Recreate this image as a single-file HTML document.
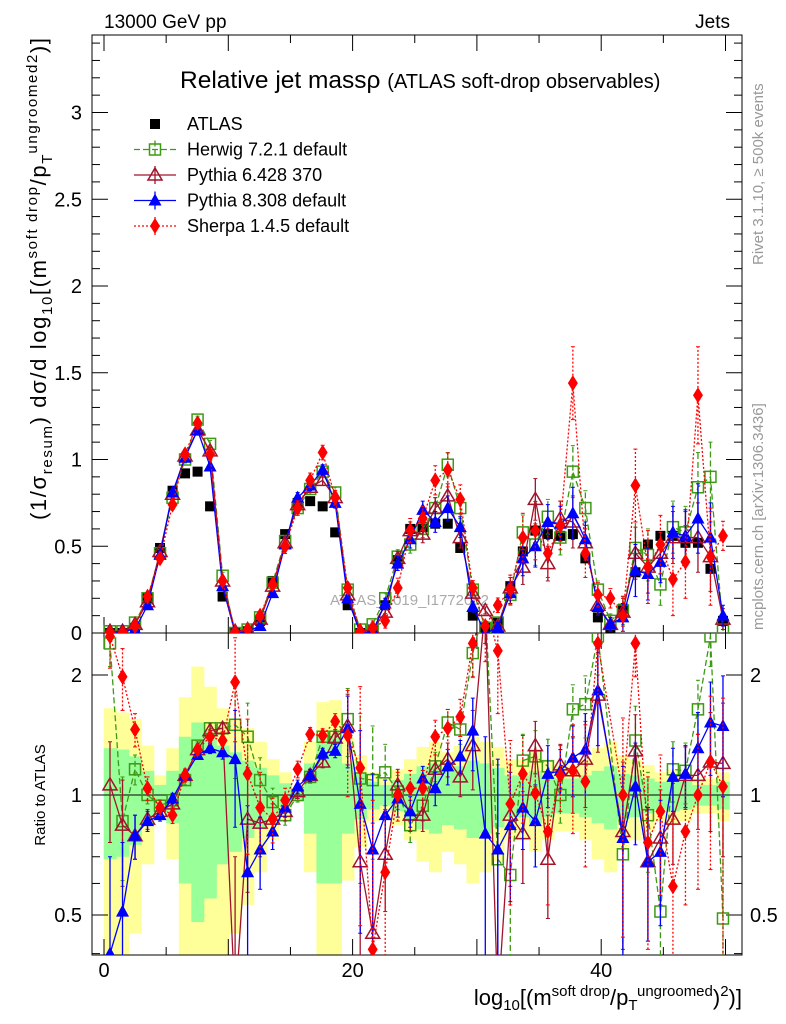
<!DOCTYPE html>
<html><head><meta charset="utf-8">
<style>
html,body{margin:0;padding:0;background:#fff;}
svg{display:block;font-family:"Liberation Sans",sans-serif;}
</style></head>
<body>
<svg id="chart" width="786" height="1024" viewBox="0 0 786 1024" xmlns="http://www.w3.org/2000/svg">
<defs>
<clipPath id="clipTop"><rect x="92" y="35" width="650" height="598"/></clipPath>
<clipPath id="clipRat"><rect x="92" y="633" width="650" height="322"/></clipPath>
</defs>
<rect x="0" y="0" width="786" height="1024" fill="#fff"/>
<g id="bands" clip-path="url(#clipRat)"></g>
<g id="axes"></g>
<text x="330" y="605" font-size="15" fill="#aaa">ATLAS_2019_I1772062</text>
<g id="marksTop" clip-path="url(#clipTop)"></g>
<g id="marksRat" clip-path="url(#clipRat)"></g>
<text x="104" y="28" font-size="19">13000 GeV pp</text>
<text x="730" y="28" font-size="19" text-anchor="end">Jets</text>
<text x="180" y="88" font-size="24.5">Relative jet massρ <tspan font-size="20">(ATLAS soft-drop observables)</tspan></text>
<text transform="translate(763,265) rotate(-90)" font-size="15" fill="#999">Rivet 3.1.10, ≥ 500k events</text>
<text transform="translate(763,630) rotate(-90)" font-size="15" fill="#999">mcplots.cern.ch [arXiv:1306.3436]</text>
<text transform="translate(46,520) rotate(-90)" font-size="22" textLength="482" lengthAdjust="spacing">(1/σ<tspan font-size="15" dy="6">resum</tspan><tspan dy="-6">) dσ/d log</tspan><tspan font-size="15" dy="6">10</tspan><tspan dy="-6">[(m</tspan><tspan font-size="15" dy="-9">soft drop</tspan><tspan dy="9">/p</tspan><tspan font-size="15" dy="6">T</tspan><tspan font-size="15" dy="-15">ungroomed</tspan><tspan font-size="15" dy="0">2</tspan><tspan dy="9">)]</tspan></text>
<text transform="translate(45,795) rotate(-90)" font-size="15" text-anchor="middle">Ratio to ATLAS</text>
<text x="742" y="1005" font-size="22" text-anchor="end">log<tspan font-size="15" dy="5">10</tspan><tspan dy="-5">[(m</tspan><tspan font-size="15" dy="-9">soft drop</tspan><tspan dy="9">/p</tspan><tspan font-size="15" dy="5">T</tspan><tspan font-size="15" dy="-14">ungroomed</tspan><tspan dy="9">)</tspan><tspan font-size="15" dy="-9">2</tspan><tspan dy="9">)]</tspan></text>
<g id="legend"></g>
</svg>
<script>
const atlas=[0,0,0.03,0.2,0.49,0.82,0.92,0.93,0.73,0.21,0,0.01,0.07,0.3,0.57,0.75,0.76,0.73,0.58,0.16,0,0.02,0.16,0.42,0.6,0.61,0.63,0.63,0.49,0.1,0.03,0.06,0.27,0.47,0.59,0.57,0.56,0.57,0.43,0.09,0.02,0.14,0.35,0.51,0.56,0.56,0.52,0.52,0.37,0.07];
const herwig=[0.01,0.01,0.06,0.2,0.46,0.78,1.0,1.23,1.09,0.33,0,0.02,0.09,0.29,0.53,0.72,0.83,0.93,0.81,0.25,0.02,0.05,0.2,0.44,0.51,0.6,0.72,0.97,0.72,0.25,0.03,0.06,0.22,0.58,0.51,0.67,0.55,0.93,0.72,0.25,0.07,0.13,0.49,0.45,0.28,0.61,0.58,0.84,0.9,0.02];
const pythia6=[0.01,0.01,0.05,0.18,0.47,0.8,1.02,1.17,1.05,0.3,0.01,0.02,0.08,0.27,0.52,0.74,0.84,0.88,0.78,0.22,0.01,0.02,0.12,0.43,0.59,0.57,0.72,0.79,0.55,0.23,0.13,0.04,0.26,0.38,0.77,0.4,0.66,0.64,0.52,0.16,0.05,0.12,0.46,0.38,0.46,0.55,0.55,0.55,0.44,0.08];
const pythia8=[0,0.01,0.02,0.16,0.45,0.81,1.01,1.17,0.96,0.27,0,0.01,0.04,0.23,0.51,0.78,0.85,0.94,0.75,0.2,0,0.01,0.17,0.4,0.54,0.71,0.64,0.72,0.61,0.15,0,0.03,0.23,0.43,0.5,0.64,0.63,0.69,0.54,0.15,0.05,0.09,0.36,0.34,0.41,0.58,0.56,0.66,0.55,0.1];
const sherpa=[0,0,0.04,0.21,0.43,0.74,1.03,1.21,1.03,0.3,0,0.02,0.1,0.28,0.5,0.72,0.88,1.04,0.78,0.26,0.01,0.03,0.07,0.26,0.59,0.66,0.88,0.94,0.77,0.26,0.04,0.16,0.25,0.55,0.59,0.46,0.62,1.44,0.46,0.22,0.2,0.1,0.85,0.38,0.51,0.31,0.41,1.37,0.44,0.56];
const mcErr=[0.01,0.01,0.01,0.01,0.02,0.02,0.02,0.02,0.02,0.02,0.01,0.01,0.01,0.02,0.03,0.03,0.03,0.03,0.03,0.02,0.01,0.02,0.03,0.04,0.05,0.05,0.06,0.07,0.06,0.03,0.02,0.03,0.06,0.1,0.12,0.1,0.1,0.15,0.1,0.05,0.04,0.08,0.15,0.15,0.12,0.15,0.15,0.2,0.2,0.06];
const ratHerwig=[2.4,0.86,1.16,1.0,0.94,0.97,1.09,1.33,1.47,1.47,1.5,1.4,1.09,0.96,0.89,1.0,1.11,1.4,1.4,1.55,1.1,1.09,1.14,1.02,0.84,0.94,1.18,1.52,1.46,2.27,3.0,0.69,0.63,1.22,1.25,1.18,1.0,1.64,1.69,2.5,null,0.71,1.37,0.89,0.51,1.16,1.15,1.64,2.5,0.49];
const ratPythia6=[1.06,0.84,0.79,0.87,0.91,0.95,1.12,1.3,1.45,1.47,0.3,0.87,0.85,0.87,0.91,1.02,1.12,1.21,1.39,1.49,0.68,0.45,0.71,1.06,0.89,0.89,1.16,1.23,1.11,1.33,3.0,0.3,0.89,0.8,1.33,0.69,1.19,1.15,1.23,1.78,null,0.81,1.29,0.68,0.78,0.87,1.12,1.12,1.21,1.2];
const ratPythia8=[0.4,0.51,0.79,0.86,0.89,0.98,1.12,1.26,1.31,1.28,1.23,0.64,0.73,0.81,0.93,1.05,1.12,1.27,1.29,1.47,0.95,0.73,0.89,0.98,0.91,1.1,1.04,1.18,1.25,1.45,0.8,0.73,0.84,0.93,0.86,1.13,1.15,1.24,1.3,1.83,null,0.78,1.05,0.68,0.72,1.11,1.13,1.31,1.52,1.49];
const ratSherpa=[2.5,1.98,1.46,1.04,0.93,0.89,1.12,1.3,1.4,1.37,1.92,1.13,0.93,0.87,0.97,1.16,1.42,1.41,1.53,1.41,1.17,0.41,0.64,1.0,1.04,1.04,1.4,1.47,1.57,2.4,3.0,2.3,0.95,1.13,1.01,0.81,1.12,1.15,1.08,2.4,null,1.0,2.4,0.76,0.91,0.59,0.81,1.0,1.21,1.05];
const ratErr=[0.3,0.25,0.1,0.05,0.03,0.03,0.03,0.03,0.04,0.05,0.4,0.3,0.15,0.08,0.05,0.04,0.04,0.04,0.05,0.3,0.5,0.4,0.2,0.1,0.08,0.08,0.1,0.12,0.12,0.3,0.6,0.5,0.3,0.2,0.2,0.2,0.15,0.25,0.3,0.5,0.6,0.4,0.3,0.25,0.25,0.2,0.2,0.3,0.4,0.5];
const bandYellow=[0.65,0.61,0.55,0.33,0.12,0.31,0.76,1.1,0.87,0.65,0.55,0.47,0.36,0.23,0.14,0.04,0.36,0.71,0.73,0.39,0.26,0.14,0.1,0.16,0.23,0.32,0.36,0.28,0.33,0.4,0.36,0.32,0.23,0.23,0.28,0.23,0.19,0.19,0.23,0.31,0.36,0.26,0.23,0.19,0.14,0.16,0.14,0.1,0.1,0.14];
const bandGreen=[0.31,0.3,0.25,0.15,0.06,0.15,0.4,0.52,0.45,0.33,0.28,0.22,0.17,0.12,0.07,0.03,0.2,0.4,0.4,0.2,0.13,0.08,0.06,0.09,0.13,0.18,0.2,0.16,0.18,0.22,0.2,0.17,0.12,0.12,0.15,0.12,0.1,0.1,0.12,0.15,0.18,0.13,0.12,0.1,0.08,0.09,0.08,0.06,0.06,0.08];
const yTickLabels=["0","0.5","1","1.5","2","2.5","3"];
const xTickLabels=["0","20","40"];
const rTickLabels=["0.5","1","2"];

const NS="http://www.w3.org/2000/svg";
const X0=92,X1=742,YT0=35,YT1=633,YR1=955;
const binStart=-0.02,binW=1.0064;
function xs(v){return 104+v*12.43;}
function bc(i){return xs(binStart+(i+0.5)*binW);}
function yt(v){return 633-173.5*v;}
function yr(r){return 795-120*Math.log2(r);}
function mk(tag,attrs,parent){const e=document.createElementNS(NS,tag);for(const k in attrs)e.setAttribute(k,attrs[k]);parent.appendChild(e);return e;}
const axes=document.getElementById('axes');
const bands=document.getElementById('bands');
bandYellow.forEach((w,i)=>{
  const x0=xs(binStart+i*binW),x1=xs(binStart+(i+1)*binW);
  const lo=Math.max(1-w,0.3),hi=1+w;
  const r=mk('rect',{x:x0,y:yr(hi),width:x1-x0+0.5,height:yr(lo)-yr(hi),fill:'#ffff99'},bands);
  
  
});
bandGreen.forEach((w,i)=>{
  const x0=xs(binStart+i*binW),x1=xs(binStart+(i+1)*binW);
  const r=mk('rect',{x:x0,y:yr(1+w),width:x1-x0+0.5,height:yr(1-w)-yr(1+w),fill:'#99ff99'},bands);
  
  
});
let f=mk('rect',{x:X0,y:YT0,width:X1-X0,height:YT1-YT0,fill:'none',stroke:'#000','stroke-width':1},axes);


f=mk('rect',{x:X0,y:YT1,width:X1-X0,height:YR1-YT1,fill:'none',stroke:'#000','stroke-width':1},axes);


let l=mk('line',{x1:X0,x2:X1,y1:yr(1),y2:yr(1),stroke:'#000','stroke-width':1},axes);


for(let v=0;v<=50;v+=5){
  const L=(v%10===0)?16:8,x=xs(v);
  mk('line',{x1:x,x2:x,y1:YR1,y2:YR1-L,stroke:'#000'},axes);
  mk('line',{x1:x,x2:x,y1:YT1,y2:YT1-L,stroke:'#000'},axes);
  mk('line',{x1:x,x2:x,y1:YT1,y2:YT1+L,stroke:'#000'},axes);
  mk('line',{x1:x,x2:x,y1:YT0,y2:YT0+L,stroke:'#000'},axes);
}
xTickLabels.forEach(s=>{
  const t=mk('text',{x:xs(+s),y:977,'font-size':20,'text-anchor':'middle'},axes);t.textContent=s;
  
  
});
for(let k=0;k<=34;k++){
  const v=k/10,y=yt(v),L=(k%5===0)?16:8;
  mk('line',{x1:X0,x2:X0+L,y1:y,y2:y,stroke:'#000'},axes);
  mk('line',{x1:X1,x2:X1-L,y1:y,y2:y,stroke:'#000'},axes);
}
yTickLabels.forEach(s=>{
  const t=mk('text',{x:82,y:yt(+s)+7,'font-size':20,'text-anchor':'end'},axes);t.textContent=s;
  
  
});
[0.4,0.5,0.6,0.7,0.8,0.9,1,2].forEach(v=>{
  const y=yr(v),L=(v===0.5||v===1||v===2)?16:8;
  mk('line',{x1:X0,x2:X0+L,y1:y,y2:y,stroke:'#000'},axes);
  mk('line',{x1:X1,x2:X1-L,y1:y,y2:y,stroke:'#000'},axes);
});
rTickLabels.forEach(s=>{
  let t=mk('text',{x:82,y:yr(+s)+7,'font-size':20,'text-anchor':'end'},axes);t.textContent=s;
  
  
  t=mk('text',{x:750,y:yr(+s)+7,'font-size':20},axes);t.textContent=s;
  
  
});
function marker(type,color,x,y,g){
  let e;
  if(type==='sq') e=mk('rect',{x:x-5,y:y-5,width:10,height:10,fill:'#000'},g);
  else if(type==='osq') e=mk('rect',{x:x-5.5,y:y-5.5,width:11,height:11,fill:'none',stroke:color,'stroke-width':1.5},g);
  else if(type==='otri') e=mk('polygon',{points:`${x},${y-7} ${x-7},${y+5} ${x+7},${y+5}`,fill:'none',stroke:color,'stroke-width':1.5},g);
  else if(type==='tri') e=mk('polygon',{points:`${x},${y-7} ${x-6.5},${y+5} ${x+6.5},${y+5}`,fill:color},g);
  else e=mk('polygon',{points:`${x},${y-8} ${x-5},${y} ${x},${y+8} ${x+5},${y}`,fill:color},g);
  return e;
}
const series=[
 {name:'herwig',vals:herwig,rat:ratHerwig,color:'#3c9a14',type:'osq',dash:'6,3',ef:1},
 {name:'pythia6',vals:pythia6,rat:ratPythia6,color:'#a0142c',type:'otri',dash:'',ef:1},
 {name:'pythia8',vals:pythia8,rat:ratPythia8,color:'#0000ff',type:'tri',dash:'',ef:1},
 {name:'sherpa',vals:sherpa,rat:ratSherpa,color:'#ff0000',type:'dia',dash:'2,2',ef:1.4}
];
const gT=document.getElementById('marksTop'),gR=document.getElementById('marksRat');
atlas.forEach((v,i)=>{
  const m=marker('sq','#000',bc(i),yt(v),gT);
  
  
});
series.forEach(s=>{
  const g=mk('g',{},gT);
  
  
  const pts=s.vals.map((v,i)=>bc(i)+','+yt(v)).join(' ');
  mk('polyline',{points:pts,fill:'none',stroke:s.color,'stroke-width':1.3,'stroke-dasharray':s.dash},g);
  s.vals.forEach((v,i)=>{
    const e=mcErr[i]*s.ef,x=bc(i);
    mk('line',{x1:x,x2:x,y1:yt(v-e),y2:yt(v+e),stroke:s.color,'stroke-width':1.3,'stroke-dasharray':s.dash},g);
    mk('line',{x1:x-2,x2:x+2,y1:yt(v+e),y2:yt(v+e),stroke:s.color},g);
    mk('line',{x1:x-2,x2:x+2,y1:yt(v-e),y2:yt(v-e),stroke:s.color},g);
    const m=marker(s.type,s.color,x,yt(v),g);
    
    
  });
  const gr=mk('g',{},gR);
  
  
  const rp=[];
  s.rat.forEach((r,i)=>{if(r!==null)rp.push(bc(i)+','+yr(r));});
  mk('polyline',{points:rp.join(' '),fill:'none',stroke:s.color,'stroke-width':1.3,'stroke-dasharray':s.dash},gr);
  s.rat.forEach((r,i)=>{
    if(r===null)return;
    const e=ratErr[i]*s.ef,x=bc(i);
    const lo=Math.max(r-e,0.2);
    mk('line',{x1:x,x2:x,y1:yr(lo),y2:yr(r+e),stroke:s.color,'stroke-width':1.3,'stroke-dasharray':s.dash},gr);
    mk('line',{x1:x-2,x2:x+2,y1:yr(r+e),y2:yr(r+e),stroke:s.color},gr);
    mk('line',{x1:x-2,x2:x+2,y1:yr(lo),y2:yr(lo),stroke:s.color},gr);
    const m=marker(s.type,s.color,x,yr(r),gr);
    
    
  });
});
const lg=document.getElementById('legend');
const legItems=[['ATLAS','sq','#000',''],['Herwig 7.2.1 default','osq','#3c9a14','6,3'],['Pythia 6.428 370','otri','#a0142c',''],['Pythia 8.308 default','tri','#0000ff',''],['Sherpa 1.4.5 default','dia','#ff0000','2,2']];
legItems.forEach((it,k)=>{
  const y=124+k*25.5;
  const g=mk('g',{},lg);
  
  
  if(k>0){
    mk('line',{x1:134,x2:176,y1:y,y2:y,stroke:it[2],'stroke-width':1.3,'stroke-dasharray':it[3]},g);
    mk('line',{x1:155,x2:155,y1:y-9,y2:y+9,stroke:it[2],'stroke-width':1.3,'stroke-dasharray':it[3]},g);
  }
  marker(it[1],it[2],155,y,g);
  const t=mk('text',{x:187,y:y+6,'font-size':18},g);t.textContent=it[0];
});
</script>
</body></html>
